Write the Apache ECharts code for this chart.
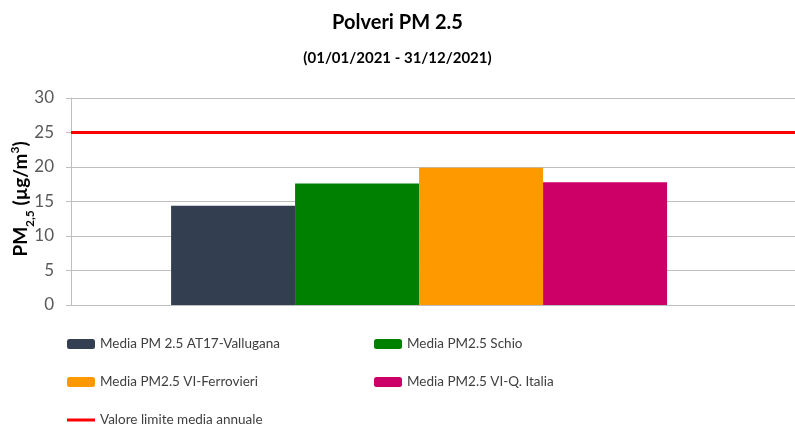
<!DOCTYPE html>
<html>
<head>
<meta charset="utf-8">
<script src="https://cdn.jsdelivr.net/npm/echarts@6/dist/echarts.min.js"></script>
<style>
  html, body { margin: 0; padding: 0; background: #fff; }
  #chart { width: 795px; height: 425px; }
</style>
</head>
<body>
<div id="chart"></div>
<script>
// values (annual mean, µg/m3)
const stations = [
  'Media PM 2.5 AT17-Vallugana',
  'Media PM2.5 Schio',
  'Media PM2.5 VI-Ferrovieri',
  'Media PM2.5 VI-Q. Italia'
];
const means = [14.4, 17.6, 19.9, 17.8];
const colors = ['#333f50', '#008000', '#ff9900', '#cc0066'];
const limitName = 'Valore limite media annuale';
const limitValue = 25;
const yTicks = [0, 5, 10, 15, 20, 25, 30];

// the plot runs off the right edge of the picture, so x is a plain value axis
const xMin = 0, xMax = 1.04, barPos = 0.5;

const font = 'Lato, "Liberation Sans", sans-serif';

const barSeries = stations.map((name, i) => ({
  name: name,
  type: 'bar',
  barWidth: 124,
  barGap: '0%',
  itemStyle: { color: colors[i] },
  data: [[barPos, means[i]]]
}));

const lineSeries = {
  name: limitName,
  type: 'line',
  symbol: 'none',
  lineStyle: { color: '#ff0000', width: 3 },
  itemStyle: { color: '#ff0000' },
  z: 5,
  data: [[xMin, limitValue], [xMax, limitValue]]
};

const legendText = { fontFamily: font, fontSize: 13.5, color: '#404040' };

const chart = echarts.init(document.getElementById('chart'), null, { renderer: 'canvas' });

chart.setOption({
  animation: false,
  textStyle: { fontFamily: font },
  title: [
    {
      text: 'Polveri PM 2.5',
      left: 'center',
      top: 8,
      textStyle: { fontFamily: font, fontSize: 20, fontWeight: 'bold', color: '#000' }
    },
    {
      text: '(01/01/2021 - 31/12/2021)',
      left: 'center',
      top: 46,
      textStyle: { fontFamily: font, fontSize: 15, fontWeight: 'bold', color: '#000' }
    }
  ],
  // y axis title with sub/superscript, placed by hand (v6 axis name kept getting pushed to the edge)
  graphic: [{
    type: 'text',
    x: 21,
    y: 199,
    rotation: Math.PI / 2,
    style: {
      text: '{n|PM}{sub|2,5}{n| (µg/m}{sup|3}{n|)}',
      align: 'center',
      verticalAlign: 'middle',
      rich: {
        n: { fontFamily: font, fontSize: 19, fontWeight: 'bold', fill: '#000', lineHeight: 24, verticalAlign: 'middle' },
        sub: { fontFamily: font, fontSize: 12, fontWeight: 'bold', fill: '#000', lineHeight: 24, verticalAlign: 'bottom', padding: [0, 0, -3, 0] },
        sup: { fontFamily: font, fontSize: 12, fontWeight: 'bold', fill: '#000', lineHeight: 24, verticalAlign: 'top' }
      }
    }
  }],
  legend: [
    {
      orient: 'vertical',
      left: 62,
      top: 332,
      height: 100,
      itemWidth: 28,
      itemHeight: 10,
      itemGap: 24,
      symbolKeepAspect: true,
      textStyle: legendText,
      data: [
        stations[0],
        stations[2],
        { name: limitName, icon: 'path://M0,0 L28,0 L28,3 L0,3 Z', itemStyle: { color: '#ff0000' } }
      ]
    },
    {
      orient: 'vertical',
      left: 369,
      top: 332,
      height: 100,
      itemWidth: 28,
      itemHeight: 10,
      itemGap: 24,
      textStyle: legendText,
      data: [stations[1], stations[3]]
    }
  ],
  grid: { left: 71, right: 0, top: 98, bottom: 120, outerBoundsMode: 'none', containLabel: false },
  xAxis: {
    type: 'value',
    min: xMin,
    max: xMax,
    axisLine: { show: true, lineStyle: { color: '#bfbfbf', width: 1 } },
    axisTick: { show: false },
    axisLabel: { show: false },
    splitLine: { show: false }
  },
  yAxis: {
    type: 'value',
    min: yTicks[0],
    max: yTicks[yTicks.length - 1],
    interval: 5,
    axisLine: { show: true, lineStyle: { color: '#bfbfbf', width: 1 } },
    axisTick: { show: true, length: 5, lineStyle: { color: '#bfbfbf' } },
    axisLabel: { fontFamily: font, fontSize: 17, color: '#595959', margin: 17 },
    splitLine: { show: true, lineStyle: { color: '#bfbfbf', width: 1 } }
  },
  series: barSeries.concat([lineSeries])
});
</script>
</body>
</html>
